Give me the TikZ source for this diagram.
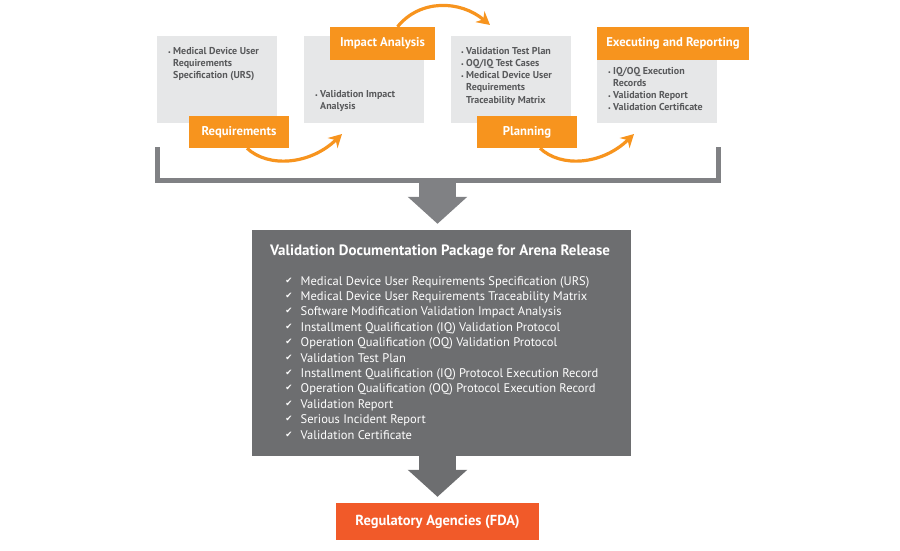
\documentclass[tikz,border=0pt]{standalone}
\usepackage{fontspec}
\setmainfont{PT Sans}
\newfontfamily\checkfont{DejaVu Sans}
\usepackage{tikz}
\usetikzlibrary{arrows.meta}
\definecolor{boxorange}{HTML}{F7941E}
\definecolor{boxgray}{HTML}{E6E7E8}
\definecolor{textgray}{HTML}{58595B}
\definecolor{packgray}{HTML}{6D6E70}
\definecolor{bargray}{HTML}{808184}
\definecolor{fdared}{HTML}{F15A29}
\newcommand{\itm}{\makebox[5pt][l]{\fontsize{6}{6}\selectfont\textbullet}}
\newcommand{\ind}{\hspace*{5pt}}
\tikzset{
  stage/.style={fill=boxgray, inner sep=0pt, anchor=north west},
  stagetext/.style={anchor=north west, inner sep=0pt, align=left, text=textgray, font=\fontsize{10}{12.2}\selectfont\bfseries},
  phase/.style={fill=boxorange, inner sep=0pt, text=white, font=\fontsize{12.7}{12}\selectfont\bfseries},
  flow/.style={draw=boxorange, line width=3.2pt, -{Stealth[length=13pt,width=14pt]}},
  block/.style={draw=#1, line width=37pt, -{Triangle[length=27pt,width=58pt]}},
  item/.style={anchor=base west, inner sep=0pt, text=white, font=\fontsize{12.5}{12}\selectfont},
  tick/.style={anchor=base, inner sep=0pt, text=white, font=\checkfont\fontsize{8.5}{8}\selectfont}
}
\begin{document}
\begin{tikzpicture}[x=1pt,y=-1pt]
  \useasboundingbox (0,0) rectangle (900,550);
  % grey stage boxes
  \node[stage, minimum width=120pt, minimum height=87pt] (urs) at (157,36) {};
  \node[stage, minimum width=120pt, minimum height=87pt] (via) at (304,36) {};
  \node[stage, minimum width=120pt, minimum height=87pt] (vtp) at (451,36) {};
  \node[stage, minimum width=120pt, minimum height=63pt] (rec) at (597,60) {};
  \node[stagetext] (urstext) at (168,47) {\itm Medical Device User\\\ind Requirements\\\ind Specification (URS)};
  \node[stagetext] (viatext) at (315,90) {\itm Validation Impact\\\ind Analysis};
  \node[stagetext] (vtptext) at (461,47) {\itm Validation Test Plan\\\itm OQ/IQ Test Cases\\\itm Medical Device User\\\ind Requirements\\\ind Traceability Matrix};
  \node[stagetext] (rectext) at (608,67) {\itm IQ/OQ Execution\\\ind Records\\\itm Validation Report\\\itm Validation Certificate};
  % orange curves
  \coordinate (viaend) at (342,134);
  \coordinate (vtpend) at (490,25);
  \coordinate (recend) at (634,134);
  \node[phase, minimum width=100pt, minimum height=32pt] (req) at (239,132) {Requirements};
  \node[phase, minimum width=105pt, minimum height=33pt] (imp) at (382.5,43.5) {Impact Analysis};
  \node[phase, minimum width=100pt, minimum height=32pt] (pln) at (527,132) {Planning};
  \node[phase, minimum width=152pt, minimum height=33pt] (exe) at (673,43.5) {Executing and Reporting};
  \draw[flow] ([xshift=8pt]req.south) .. controls (268,168) and (310,165) .. (viaend);
  \draw[flow] ([xshift=15pt]imp.north) .. controls (420,-1) and (460,0) .. (vtpend);
  \draw[flow] ([xshift=13pt]pln.south) .. controls (561,168) and (602,165) .. (recend);
  % bracket and package
  \coordinate (brl) at (157.5,147);
  \coordinate (brr) at (718,147);
  \coordinate (brm) at (437.5,181);
  \draw[draw=bargray, line width=5pt, line join=miter] (brl) -- (157.5,180.5) -- (718,180.5) -- (brr);
  \node[fill=packgray, inner sep=0pt, minimum width=379pt, minimum height=226pt] (pack) at (441.5,343) {};
  \node[fill=fdared, inner sep=0pt, minimum width=203pt, minimum height=37pt, text=white, font=\fontsize{14.5}{14}\selectfont\bfseries] (fda) at (437.5,521.5) {Regulatory Agencies (FDA)};
  \draw[block=bargray, shorten >=6pt] (brm) -- (brm |- pack.north);
  \draw[block=packgray, shorten >=6pt] (pack.south -| brm) -- (brm |- fda.north);
  \node[anchor=center, inner sep=0pt, text=white, font=\fontsize{15}{14}\selectfont\bfseries] (packtitle) at (440,252) {Validation Documentation Package for Arena Release};
  % package list
  \foreach \i/\txt in {0/Medical Device User Requirements Specification (URS),
      1/Medical Device User Requirements Traceability Matrix,
      2/Software Modification Validation Impact Analysis,
      3/Installment Qualification (IQ) Validation Protocol,
      4/Operation Qualification (OQ) Validation Protocol,
      5/Validation Test Plan,
      6/Installment Qualification (IQ) Protocol Execution Record,
      7/Operation Qualification (OQ) Protocol Execution Record,
      8/Validation Report,
      9/Serious Incident Report,
      10/Validation Certificate} {
    \node[tick] (tick\i) at (289,283+15.4*\i) {✔};
    \node[item] (doc\i) at (300.5,285+15.4*\i) {\txt};
  }
\end{tikzpicture}
\end{document}
